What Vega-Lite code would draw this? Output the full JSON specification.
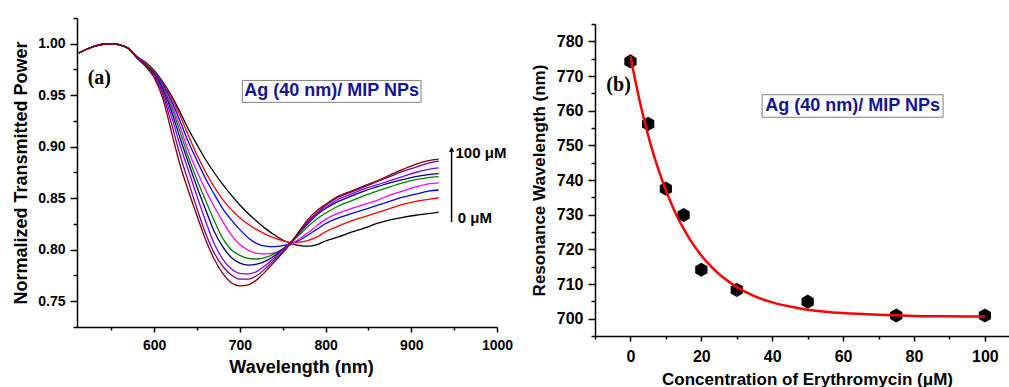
{
"$schema": "https://vega.github.io/schema/vega-lite/v6.json",
"background": "white",
"padding": {"left": 12, "top": 17, "right": 0, "bottom": 0},
"bounds": "flush",
"spacing": 98,
"config": {
  "view": {"stroke": null},
  "axis": {"grid": false, "domainColor": "black", "domainWidth": 1.5, "tickColor": "black", "tickWidth": 1.5, "labelFont": "Liberation Sans", "labelFontWeight": "bold", "labelColor": "black", "titleFont": "Liberation Sans", "titleFontWeight": "bold", "titleColor": "black", "labelOverlap": false, "labelFlush": false}
},
"datasets": {
  "spectra": [
    {"c":"0","w":512,"t":0.991},{"c":"0","w":520,"t":0.9942},{"c":"0","w":530,"t":0.9974},{"c":"0","w":540,"t":0.9995},{"c":"0","w":550,"t":1.0},{"c":"0","w":560,"t":0.999},{"c":"0","w":570,"t":0.9955},
    {"c":"0","w":580,"t":0.9875},{"c":"0","w":590,"t":0.982},{"c":"0","w":600,"t":0.974},{"c":"0","w":610,"t":0.963},{"c":"0","w":620,"t":0.950},{"c":"0","w":630,"t":0.934},{"c":"0","w":640,"t":0.917},{"c":"0","w":650,"t":0.902},{"c":"0","w":660,"t":0.8876},{"c":"0","w":670,"t":0.875},{"c":"0","w":680,"t":0.8635},{"c":"0","w":690,"t":0.853},{"c":"0","w":700,"t":0.8435},{"c":"0","w":710,"t":0.835},{"c":"0","w":720,"t":0.8275},{"c":"0","w":730,"t":0.8205},{"c":"0","w":740,"t":0.8145},{"c":"0","w":750,"t":0.8095},{"c":"0","w":760,"t":0.806},{"c":"0","w":770,"t":0.804},{"c":"0","w":780,"t":0.8035},{"c":"0","w":790,"t":0.805},{"c":"0","w":800,"t":0.8085},{"c":"0","w":815,"t":0.8125},{"c":"0","w":830,"t":0.817},{"c":"0","w":845,"t":0.821},{"c":"0","w":860,"t":0.8255},{"c":"0","w":875,"t":0.829},{"c":"0","w":890,"t":0.8315},{"c":"0","w":905,"t":0.8335},{"c":"0","w":920,"t":0.835},{"c":"0","w":932,"t":0.8365},

    {"c":"5","w":512,"t":0.991},{"c":"5","w":520,"t":0.9942},{"c":"5","w":530,"t":0.9974},{"c":"5","w":540,"t":0.9995},{"c":"5","w":550,"t":1.0},{"c":"5","w":560,"t":0.999},{"c":"5","w":570,"t":0.9955},
    {"c":"5","w":580,"t":0.9875},{"c":"5","w":590,"t":0.9815},{"c":"5","w":600,"t":0.9735},{"c":"5","w":610,"t":0.962},{"c":"5","w":620,"t":0.948},{"c":"5","w":630,"t":0.9305},{"c":"5","w":640,"t":0.911},{"c":"5","w":650,"t":0.892},{"c":"5","w":660,"t":0.8755},{"c":"5","w":670,"t":0.861},{"c":"5","w":680,"t":0.849},{"c":"5","w":690,"t":0.839},{"c":"5","w":700,"t":0.831},{"c":"5","w":710,"t":0.8245},{"c":"5","w":720,"t":0.8195},{"c":"5","w":730,"t":0.815},{"c":"5","w":740,"t":0.8115},{"c":"5","w":750,"t":0.8088},{"c":"5","w":760,"t":0.8072},{"c":"5","w":770,"t":0.8075},{"c":"5","w":780,"t":0.809},{"c":"5","w":790,"t":0.8125},{"c":"5","w":800,"t":0.8175},{"c":"5","w":815,"t":0.823},{"c":"5","w":830,"t":0.828},{"c":"5","w":845,"t":0.832},{"c":"5","w":860,"t":0.836},{"c":"5","w":875,"t":0.840},{"c":"5","w":890,"t":0.844},{"c":"5","w":905,"t":0.847},{"c":"5","w":920,"t":0.849},{"c":"5","w":932,"t":0.8505},

    {"c":"10","w":512,"t":0.991},{"c":"10","w":520,"t":0.9942},{"c":"10","w":530,"t":0.9974},{"c":"10","w":540,"t":0.9995},{"c":"10","w":550,"t":1.0},{"c":"10","w":560,"t":0.999},{"c":"10","w":570,"t":0.9955},
    {"c":"10","w":580,"t":0.9873},{"c":"10","w":590,"t":0.981},{"c":"10","w":600,"t":0.973},{"c":"10","w":610,"t":0.9605},{"c":"10","w":620,"t":0.945},{"c":"10","w":630,"t":0.9255},{"c":"10","w":640,"t":0.9045},{"c":"10","w":650,"t":0.8865},{"c":"10","w":660,"t":0.869},{"c":"10","w":670,"t":0.854},{"c":"10","w":680,"t":0.840},{"c":"10","w":690,"t":0.829},{"c":"10","w":700,"t":0.8195},{"c":"10","w":710,"t":0.8115},{"c":"10","w":720,"t":0.806},{"c":"10","w":730,"t":0.8035},{"c":"10","w":740,"t":0.803},{"c":"10","w":750,"t":0.804},{"c":"10","w":760,"t":0.806},{"c":"10","w":770,"t":0.8095},{"c":"10","w":780,"t":0.8145},{"c":"10","w":790,"t":0.820},{"c":"10","w":800,"t":0.8255},{"c":"10","w":815,"t":0.831},{"c":"10","w":830,"t":0.835},{"c":"10","w":845,"t":0.839},{"c":"10","w":860,"t":0.843},{"c":"10","w":875,"t":0.847},{"c":"10","w":890,"t":0.851},{"c":"10","w":905,"t":0.854},{"c":"10","w":920,"t":0.857},{"c":"10","w":932,"t":0.858},

    {"c":"15","w":512,"t":0.991},{"c":"15","w":520,"t":0.9942},{"c":"15","w":530,"t":0.9974},{"c":"15","w":540,"t":0.9995},{"c":"15","w":550,"t":1.0},{"c":"15","w":560,"t":0.999},{"c":"15","w":570,"t":0.9955},
    {"c":"15","w":580,"t":0.987},{"c":"15","w":590,"t":0.9805},{"c":"15","w":600,"t":0.9725},{"c":"15","w":610,"t":0.959},{"c":"15","w":620,"t":0.942},{"c":"15","w":630,"t":0.920},{"c":"15","w":640,"t":0.896},{"c":"15","w":650,"t":0.876},{"c":"15","w":660,"t":0.858},{"c":"15","w":670,"t":0.842},{"c":"15","w":680,"t":0.8275},{"c":"15","w":690,"t":0.8145},{"c":"15","w":700,"t":0.805},{"c":"15","w":710,"t":0.7995},{"c":"15","w":720,"t":0.7965},{"c":"15","w":730,"t":0.796},{"c":"15","w":740,"t":0.797},{"c":"15","w":750,"t":0.8005},{"c":"15","w":760,"t":0.8055},{"c":"15","w":770,"t":0.811},{"c":"15","w":780,"t":0.817},{"c":"15","w":790,"t":0.8235},{"c":"15","w":800,"t":0.8295},{"c":"15","w":815,"t":0.8355},{"c":"15","w":830,"t":0.840},{"c":"15","w":845,"t":0.844},{"c":"15","w":860,"t":0.848},{"c":"15","w":875,"t":0.853},{"c":"15","w":890,"t":0.857},{"c":"15","w":905,"t":0.861},{"c":"15","w":920,"t":0.864},{"c":"15","w":932,"t":0.865},

    {"c":"20","w":512,"t":0.991},{"c":"20","w":520,"t":0.9942},{"c":"20","w":530,"t":0.9974},{"c":"20","w":540,"t":0.9995},{"c":"20","w":550,"t":1.0},{"c":"20","w":560,"t":0.999},{"c":"20","w":570,"t":0.9955},
    {"c":"20","w":580,"t":0.987},{"c":"20","w":590,"t":0.980},{"c":"20","w":600,"t":0.972},{"c":"20","w":610,"t":0.958},{"c":"20","w":620,"t":0.939},{"c":"20","w":630,"t":0.915},{"c":"20","w":640,"t":0.890},{"c":"20","w":650,"t":0.868},{"c":"20","w":660,"t":0.848},{"c":"20","w":670,"t":0.8285},{"c":"20","w":680,"t":0.811},{"c":"20","w":690,"t":0.800},{"c":"20","w":700,"t":0.7945},{"c":"20","w":710,"t":0.7915},{"c":"20","w":720,"t":0.791},{"c":"20","w":730,"t":0.7925},{"c":"20","w":740,"t":0.796},{"c":"20","w":750,"t":0.801},{"c":"20","w":760,"t":0.807},{"c":"20","w":770,"t":0.815},{"c":"20","w":780,"t":0.823},{"c":"20","w":790,"t":0.830},{"c":"20","w":800,"t":0.8355},{"c":"20","w":815,"t":0.8425},{"c":"20","w":830,"t":0.8475},{"c":"20","w":845,"t":0.8525},{"c":"20","w":860,"t":0.857},{"c":"20","w":875,"t":0.861},{"c":"20","w":890,"t":0.865},{"c":"20","w":905,"t":0.868},{"c":"20","w":920,"t":0.870},{"c":"20","w":932,"t":0.871},

    {"c":"30","w":512,"t":0.991},{"c":"30","w":520,"t":0.9942},{"c":"30","w":530,"t":0.9974},{"c":"30","w":540,"t":0.9995},{"c":"30","w":550,"t":1.0},{"c":"30","w":560,"t":0.999},{"c":"30","w":570,"t":0.9955},
    {"c":"30","w":580,"t":0.9868},{"c":"30","w":590,"t":0.9795},{"c":"30","w":600,"t":0.971},{"c":"30","w":610,"t":0.956},{"c":"30","w":620,"t":0.935},{"c":"30","w":630,"t":0.909},{"c":"30","w":640,"t":0.8845},{"c":"30","w":650,"t":0.861},{"c":"30","w":660,"t":0.839},{"c":"30","w":670,"t":0.818},{"c":"30","w":680,"t":0.803},{"c":"30","w":690,"t":0.7925},{"c":"30","w":700,"t":0.787},{"c":"30","w":710,"t":0.785},{"c":"30","w":720,"t":0.786},{"c":"30","w":730,"t":0.789},{"c":"30","w":740,"t":0.794},{"c":"30","w":750,"t":0.8005},{"c":"30","w":760,"t":0.8075},{"c":"30","w":770,"t":0.817},{"c":"30","w":780,"t":0.826},{"c":"30","w":790,"t":0.834},{"c":"30","w":800,"t":0.840},{"c":"30","w":815,"t":0.847},{"c":"30","w":830,"t":0.852},{"c":"30","w":845,"t":0.857},{"c":"30","w":860,"t":0.861},{"c":"30","w":875,"t":0.865},{"c":"30","w":890,"t":0.868},{"c":"30","w":905,"t":0.871},{"c":"30","w":920,"t":0.873},{"c":"30","w":932,"t":0.874},

    {"c":"50","w":512,"t":0.991},{"c":"50","w":520,"t":0.9942},{"c":"50","w":530,"t":0.9974},{"c":"50","w":540,"t":0.9995},{"c":"50","w":550,"t":1.0},{"c":"50","w":560,"t":0.999},{"c":"50","w":570,"t":0.9955},
    {"c":"50","w":580,"t":0.9865},{"c":"50","w":590,"t":0.979},{"c":"50","w":600,"t":0.970},{"c":"50","w":610,"t":0.9535},{"c":"50","w":620,"t":0.930},{"c":"50","w":630,"t":0.902},{"c":"50","w":640,"t":0.877},{"c":"50","w":650,"t":0.852},{"c":"50","w":660,"t":0.828},{"c":"50","w":670,"t":0.806},{"c":"50","w":680,"t":0.791},{"c":"50","w":690,"t":0.7815},{"c":"50","w":700,"t":0.777},{"c":"50","w":710,"t":0.7765},{"c":"50","w":720,"t":0.779},{"c":"50","w":730,"t":0.785},{"c":"50","w":740,"t":0.792},{"c":"50","w":750,"t":0.800},{"c":"50","w":760,"t":0.808},{"c":"50","w":770,"t":0.818},{"c":"50","w":780,"t":0.827},{"c":"50","w":790,"t":0.835},{"c":"50","w":800,"t":0.841},{"c":"50","w":815,"t":0.849},{"c":"50","w":830,"t":0.854},{"c":"50","w":845,"t":0.859},{"c":"50","w":860,"t":0.863},{"c":"50","w":875,"t":0.867},{"c":"50","w":890,"t":0.871},{"c":"50","w":905,"t":0.875},{"c":"50","w":920,"t":0.878},{"c":"50","w":932,"t":0.8795},

    {"c":"75","w":512,"t":0.991},{"c":"75","w":520,"t":0.9942},{"c":"75","w":530,"t":0.9974},{"c":"75","w":540,"t":0.9995},{"c":"75","w":550,"t":1.0},{"c":"75","w":560,"t":0.999},{"c":"75","w":570,"t":0.9955},
    {"c":"75","w":580,"t":0.9862},{"c":"75","w":590,"t":0.9785},{"c":"75","w":600,"t":0.969},{"c":"75","w":610,"t":0.951},{"c":"75","w":620,"t":0.923},{"c":"75","w":630,"t":0.8925},{"c":"75","w":640,"t":0.866},{"c":"75","w":650,"t":0.840},{"c":"75","w":660,"t":0.816},{"c":"75","w":670,"t":0.797},{"c":"75","w":680,"t":0.784},{"c":"75","w":690,"t":0.7755},{"c":"75","w":700,"t":0.7715},{"c":"75","w":710,"t":0.7715},{"c":"75","w":720,"t":0.775},{"c":"75","w":730,"t":0.782},{"c":"75","w":740,"t":0.790},{"c":"75","w":750,"t":0.798},{"c":"75","w":760,"t":0.807},{"c":"75","w":770,"t":0.818},{"c":"75","w":780,"t":0.828},{"c":"75","w":790,"t":0.836},{"c":"75","w":800,"t":0.843},{"c":"75","w":815,"t":0.851},{"c":"75","w":830,"t":0.856},{"c":"75","w":845,"t":0.861},{"c":"75","w":860,"t":0.866},{"c":"75","w":875,"t":0.871},{"c":"75","w":890,"t":0.876},{"c":"75","w":905,"t":0.880},{"c":"75","w":920,"t":0.884},{"c":"75","w":932,"t":0.886},

    {"c":"100","w":512,"t":0.991},{"c":"100","w":520,"t":0.9942},{"c":"100","w":530,"t":0.9974},{"c":"100","w":540,"t":0.9995},{"c":"100","w":550,"t":1.0},{"c":"100","w":560,"t":0.999},{"c":"100","w":570,"t":0.9955},
    {"c":"100","w":580,"t":0.986},{"c":"100","w":590,"t":0.978},{"c":"100","w":600,"t":0.967},{"c":"100","w":610,"t":0.947},{"c":"100","w":620,"t":0.915},{"c":"100","w":630,"t":0.883},{"c":"100","w":640,"t":0.857},{"c":"100","w":650,"t":0.833},{"c":"100","w":660,"t":0.810},{"c":"100","w":670,"t":0.791},{"c":"100","w":680,"t":0.777},{"c":"100","w":690,"t":0.768},{"c":"100","w":700,"t":0.765},{"c":"100","w":710,"t":0.766},{"c":"100","w":720,"t":0.771},{"c":"100","w":730,"t":0.779},{"c":"100","w":740,"t":0.788},{"c":"100","w":750,"t":0.797},{"c":"100","w":760,"t":0.807},{"c":"100","w":770,"t":0.819},{"c":"100","w":780,"t":0.830},{"c":"100","w":790,"t":0.838},{"c":"100","w":800,"t":0.844},{"c":"100","w":815,"t":0.852},{"c":"100","w":830,"t":0.857},{"c":"100","w":845,"t":0.862},{"c":"100","w":860,"t":0.867},{"c":"100","w":875,"t":0.8725},{"c":"100","w":890,"t":0.878},{"c":"100","w":905,"t":0.883},{"c":"100","w":920,"t":0.8865},{"c":"100","w":932,"t":0.888}
  ],
  "shift": [
    {"conc":0,"res":774.2},{"conc":5,"res":756.2},{"conc":10,"res":737.5},{"conc":15,"res":729.9},{"conc":20,"res":714.1},{"conc":30,"res":708.3},{"conc":50,"res":704.9},{"conc":75,"res":700.9},{"conc":100,"res":700.9}
  ],
  "fit": [
    {"conc":0,"res":775.7},{"conc":2,"res":765.6},{"conc":4,"res":756.8},{"conc":6,"res":749.2},{"conc":8,"res":742.7},{"conc":10,"res":737.0},{"conc":12,"res":732.1},{"conc":14,"res":727.8},{"conc":16,"res":724.2},{"conc":18,"res":721.0},{"conc":20,"res":718.2},{"conc":23,"res":714.8},{"conc":26,"res":712.0},{"conc":30,"res":709.1},{"conc":35,"res":706.5},{"conc":40,"res":704.7},{"conc":45,"res":703.5},{"conc":50,"res":702.6},{"conc":55,"res":702.0},{"conc":60,"res":701.6},{"conc":70,"res":701.1},{"conc":80,"res":700.8},{"conc":90,"res":700.7},{"conc":100,"res":700.6}
  ]
},
"hconcat": [
  {
    "width": 420,
    "height": 309,
    "resolve": {"axis": {"x": "independent", "y": "independent"}},
    "layer": [
      {
        "data": {"name": "spectra"},
        "mark": {"type": "line", "strokeWidth": 1.3, "interpolate": "monotone"},
        "encoding": {
          "x": {"field": "w", "type": "quantitative", "scale": {"domain": [510, 1000], "nice": false, "zero": false},
                "axis": {"orient": "bottom", "title": "Wavelength (nm)", "values": [600,700,800,900,1000], "format": "d", "tickSize": 5,
                         "labelPadding": 6, "titlePadding": 6, "labelFontSize": 14, "titleFontSize": 18, "titleX": 224}},
          "y": {"field": "t", "type": "quantitative", "scale": {"domain": [0.725, 1.025], "nice": false, "zero": false},
                "axis": {"orient": "left", "title": "Normalized Transmitted Power", "values": [0.75,0.8,0.85,0.9,0.95,1.0], "format": ".2f", "tickSize": 7,
                         "labelPadding": 5, "titlePadding": 7, "labelFontSize": 14, "titleFontSize": 18}},
          "color": {"field": "c", "type": "nominal", "sort": ["0","5","10","15","20","30","50","75","100"],
                    "scale": {"domain": ["0","5","10","15","20","30","50","75","100"], "range": ["#000000","#ff0000","#0000ff","#ff00ff","#008000","#000080","#8000ff","#800080","#800000"]}, "legend": null}
        }
      },
      {
        "data": {"values": [{}]},
        "mark": {"type": "point", "opacity": 0},
        "encoding": {
          "x": {"datum": 600, "type": "quantitative", "axis": {"orient": "bottom", "values": [550,650,750,850,950], "labels": false, "domain": false, "tickSize": 3, "title": null}},
          "y": {"datum": 0.9, "type": "quantitative", "axis": {"orient": "left", "values": [0.725,0.775,0.825,0.875,0.925,0.975,1.025], "labels": false, "domain": false, "tickSize": 4, "title": null}}
        }
      },
      {
        "data": {"values": [{}]},
        "mark": {"type": "rect", "fill": "white", "stroke": "#808080", "strokeWidth": 1},
        "encoding": {"x": {"datum": 702.9, "axis": null}, "x2": {"datum": 911.3}, "y": {"datum": 0.9644, "axis": null}, "y2": {"datum": 0.9431}}
      },
      {
        "data": {"values": [{}]},
        "mark": {"type": "text", "text": "Ag (40 nm)/ MIP NPs", "font": "Liberation Sans", "fontWeight": "bold", "fontSize": 18, "color": "#14149b", "align": "center", "baseline": "middle"},
        "encoding": {"x": {"datum": 807, "axis": null}, "y": {"datum": 0.9538, "axis": null}}
      },
      {
        "data": {"values": [{}]},
        "mark": {"type": "text", "text": "(a)", "font": "Liberation Serif", "fontWeight": "bold", "fontSize": 20, "color": "black", "align": "left", "baseline": "middle"},
        "encoding": {"x": {"datum": 522.4, "axis": null}, "y": {"datum": 0.967, "axis": null}}
      },
      {
        "data": {"values": [{}]},
        "mark": {"type": "rule", "color": "black", "strokeWidth": 1.5},
        "encoding": {"x": {"datum": 947, "axis": null}, "y": {"datum": 0.8268, "axis": null}, "y2": {"datum": 0.897}}
      },
      {
        "data": {"values": [{}]},
        "mark": {"type": "point", "shape": "triangle-up", "filled": true, "color": "black", "size": 30, "opacity": 1},
        "encoding": {"x": {"datum": 947, "axis": null}, "y": {"datum": 0.8975, "axis": null}}
      },
      {
        "data": {"values": [{}]},
        "mark": {"type": "text", "text": "100 μM", "font": "Liberation Sans", "fontWeight": "bold", "fontSize": 15, "color": "black", "align": "left", "baseline": "middle"},
        "encoding": {"x": {"datum": 951.6, "axis": null}, "y": {"datum": 0.8944, "axis": null}}
      },
      {
        "data": {"values": [{}]},
        "mark": {"type": "text", "text": "0 μM", "font": "Liberation Sans", "fontWeight": "bold", "fontSize": 15, "color": "black", "align": "left", "baseline": "middle"},
        "encoding": {"x": {"datum": 954.3, "axis": null}, "y": {"datum": 0.8304, "axis": null}}
      }
    ]
  },
  {
    "bounds": "flush",
    "spacing": 0,
    "vconcat": [
      {"width": 414, "height": 6, "data": {"values": []}, "mark": "text", "encoding": {}},
      {
        "width": 414,
        "height": 312,
        "resolve": {"axis": {"x": "independent", "y": "independent"}},
        "layer": [
          {
            "data": {"name": "shift"},
            "mark": {"type": "point", "shape": "M0,-1L0.866,-0.5L0.866,0.5L0,1L-0.866,0.5L-0.866,-0.5Z", "filled": true, "color": "black", "size": 200, "opacity": 1},
            "encoding": {
              "x": {"field": "conc", "type": "quantitative", "scale": {"domain": [-10, 106.8], "nice": false, "zero": false},
                    "axis": {"orient": "bottom", "title": "Concentration of Erythromycin (μM)", "values": [0,20,40,60,80,100], "format": "d", "tickSize": 5,
                             "labelPadding": 7, "titlePadding": 7, "labelFontSize": 16, "titleFontSize": 17, "titleX": 212}},
              "y": {"field": "res", "type": "quantitative", "scale": {"domain": [695, 785], "nice": false, "zero": false},
                    "axis": {"orient": "left", "title": "Resonance Wavelength (nm)", "values": [700,710,720,730,740,750,760,770,780], "format": "d", "tickSize": 7,
                             "labelPadding": 5, "titlePadding": 8, "labelFontSize": 16, "titleFontSize": 17}}
            }
          },
          {
            "data": {"values": [{}]},
            "mark": {"type": "point", "opacity": 0},
            "encoding": {
              "x": {"datum": 50, "type": "quantitative", "axis": {"orient": "bottom", "values": [-10,10,30,50,70,90], "labels": false, "domain": false, "tickSize": 3, "title": null}},
              "y": {"datum": 740, "type": "quantitative", "axis": {"orient": "left", "values": [695,705,715,725,735,745,755,765,775,785], "labels": false, "domain": false, "tickSize": 4, "title": null}}
            }
          },
          {
            "data": {"name": "fit"},
            "mark": {"type": "line", "color": "#ff0000", "strokeWidth": 2.5, "interpolate": "monotone"},
            "encoding": {"x": {"field": "conc", "type": "quantitative", "axis": null}, "y": {"field": "res", "type": "quantitative", "axis": null}}
          },
          {
            "data": {"values": [{}]},
            "mark": {"type": "rect", "fill": "white", "stroke": "#808080", "strokeWidth": 1},
            "encoding": {"x": {"datum": 37.15, "axis": null}, "x2": {"datum": 88.2}, "y": {"datum": 764.6, "axis": null}, "y2": {"datum": 758.1}}
          },
          {
            "data": {"values": [{}]},
            "mark": {"type": "text", "text": "Ag (40 nm)/ MIP NPs", "font": "Liberation Sans", "fontWeight": "bold", "fontSize": 18, "color": "#14149b", "align": "center", "baseline": "middle"},
            "encoding": {"x": {"datum": 62.7, "axis": null}, "y": {"datum": 761.4, "axis": null}}
          },
          {
            "data": {"values": [{}]},
            "mark": {"type": "text", "text": "(b)", "font": "Liberation Serif", "fontWeight": "bold", "fontSize": 20, "color": "black", "align": "left", "baseline": "middle"},
            "encoding": {"x": {"datum": -6.8, "axis": null}, "y": {"datum": 767.5, "axis": null}}
          }
        ]
      }
    ]
  }
]
}
